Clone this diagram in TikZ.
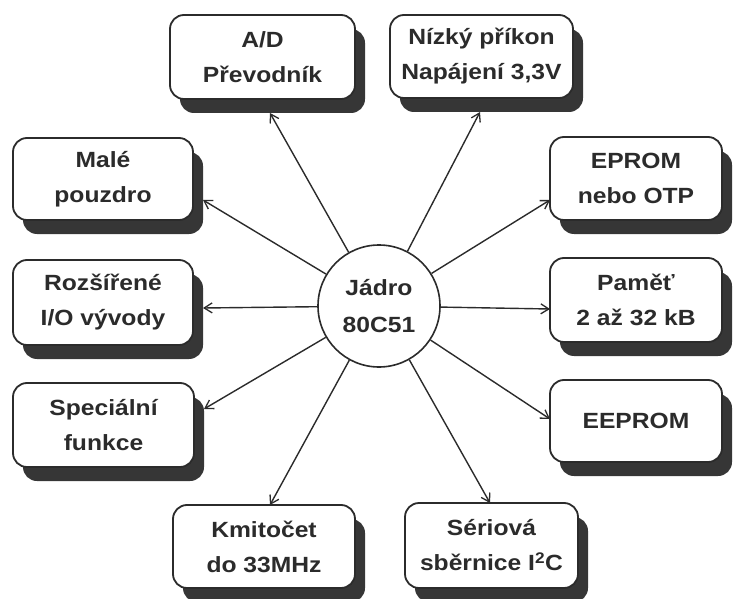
\documentclass[tikz,border=0pt]{standalone}
\usepackage{fontspec}
\setmainfont{Liberation Sans}[FakeStretch=1.12]
\usetikzlibrary{arrows.meta,shadows}
\definecolor{ink}{HTML}{2B2B2B}
\definecolor{shade}{HTML}{363636}
\tikzset{
  feature/.style={draw=ink, line width=1.8pt, fill=white, rounded corners=14pt,
    align=center, inner sep=0pt, text=ink,
    font=\bfseries\fontsize{22}{35}\selectfont,
    drop shadow={shadow xshift=10pt, shadow yshift=-14pt, fill=shade, opacity=1}},
  corebox/.style={circle, draw=ink, line width=1.6pt, fill=white,
    minimum size=122pt, inner sep=0pt, align=center, text=ink,
    font=\bfseries\fontsize{22}{37}\selectfont},
  link/.style={draw=ink, line width=1.4pt,
    -{Straight Barb[length=8pt,width=10pt,line width=1.3pt]}}
}
\begin{document}
\begin{tikzpicture}[x=1pt,y=-1pt]
  \useasboundingbox (0,0) rectangle (734,599);

  % feature boxes around the core
  \node[feature, minimum width=185pt, minimum height=84pt] (ad)     at (262.5,57)  {A/D\\Převodník};
  \node[feature, minimum width=183pt, minimum height=83pt] (nizky)  at (481.5,56.5){Nízký příkon\\Napájení 3,3V};
  \node[feature, minimum width=180pt, minimum height=82pt] (male)   at (103,179)   {Malé\\pouzdro};
  \node[feature, minimum width=172pt, minimum height=83pt] (eprom)  at (636,178.5) {EPROM\\nebo OTP};
  \node[feature, minimum width=180pt, minimum height=85pt] (rozs)   at (103,302.5) {Rozšířené\\I/O vývody};
  \node[feature, minimum width=172pt, minimum height=84pt] (pamet)  at (636,300)   {Paměť\\2 až 32 kB};
  \node[feature, minimum width=181pt, minimum height=84pt] (spec)   at (103.5,425) {Speciální\\funkce};
  \node[feature, minimum width=172pt, minimum height=82pt] (eeprom) at (636,421)   {EEPROM};
  \node[feature, minimum width=182pt, minimum height=83pt] (kmit)   at (264,546.5) {Kmitočet\\do 33MHz};
  \node[feature, minimum width=173pt, minimum height=85pt] (seri)   at (491.5,545.5){Sériová\\sběrnice I\textsuperscript{2}C};

  % central core
  \node[corebox] (core) at (379,306) {Jádro\\80C51};

  % arrow tips on the outer edges of the boxes and their shadows
  \coordinate (adtip)     at (270,113);
  \coordinate (nizkytip)  at (480,112);
  \coordinate (maletip)   at (203,200);
  \coordinate (epromtip)  at (550,200);
  \coordinate (rozstip)   at (203,308);
  \coordinate (pamettip)  at (550,309);
  \coordinate (spectip)   at (204,409);
  \coordinate (eepromtip) at (550,419);
  \coordinate (kmittip)   at (270,505);
  \coordinate (seritip)   at (490,503);

  \foreach \t in {adtip,nizkytip,maletip,epromtip,rozstip,pamettip,spectip,eepromtip,kmittip,seritip}
    \draw[link] (core) -- (\t);
\end{tikzpicture}
\end{document}
